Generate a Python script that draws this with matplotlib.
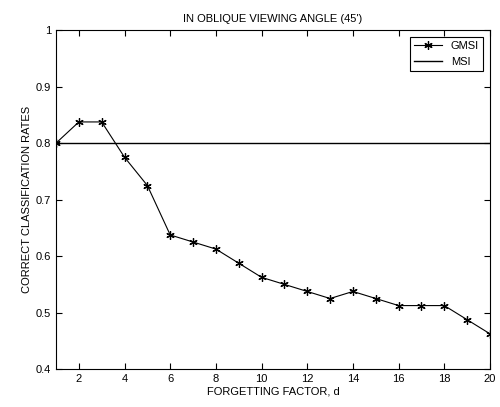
import matplotlib
matplotlib.use("Agg")
import matplotlib.pyplot as plt

plt.rcParams['font.family'] = ['Liberation Sans', 'DejaVu Sans']

# forgetting factor values and classification rates
d_values = list(range(1, 21))
gmsi_rates = [0.8, 0.8375, 0.8375, 0.775, 0.725, 0.6375, 0.625, 0.6125, 0.5875, 0.5625,
              0.55, 0.5375, 0.525, 0.5375, 0.525, 0.5125, 0.5125, 0.5125, 0.4875, 0.4625]
msi_rate = 0.8
x_ticks = [2, 4, 6, 8, 10, 12, 14, 16, 18, 20]
y_ticks = [0.4, 0.5, 0.6, 0.7, 0.8, 0.9, 1.0]
y_tick_labels = ['0.4', '0.5', '0.6', '0.7', '0.8', '0.9', '1']

fig = plt.figure(figsize=(5.0, 4.07), dpi=100)
ax = fig.add_axes([0.112, 0.093, 0.868, 0.833])

ax.plot(d_values, gmsi_rates, 'k-', marker=(6, 2, 0), markersize=6, linewidth=0.8,
        markeredgewidth=0.9, label='GMSI')
ax.plot([d_values[0], d_values[-1]], [msi_rate, msi_rate], 'k-', linewidth=1.0, label='MSI')

ax.set_xlim(1, 20)
ax.set_ylim(0.4, 1.0)
ax.set_xticks(x_ticks)
ax.set_yticks(y_ticks)
ax.set_yticklabels(y_tick_labels)
ax.tick_params(direction='in', top=True, right=True, labelsize=8, length=4)
for s in ax.spines.values():
    s.set_linewidth(0.8)

ax.set_title("IN OBLIQUE VIEWING ANGLE (45')", fontsize=8, pad=6)
ax.set_xlabel('FORGETTING FACTOR, d', fontsize=8, labelpad=2)
ax.set_ylabel('CORRECT CLASSIFICATION RATES', fontsize=8, labelpad=3)

leg = ax.legend(loc='upper right', fontsize=8, fancybox=False, edgecolor='black',
                framealpha=1, handlelength=2.5, borderaxespad=0.6)
leg.get_frame().set_linewidth(0.8)

fig.savefig('out.png', dpi=100)
